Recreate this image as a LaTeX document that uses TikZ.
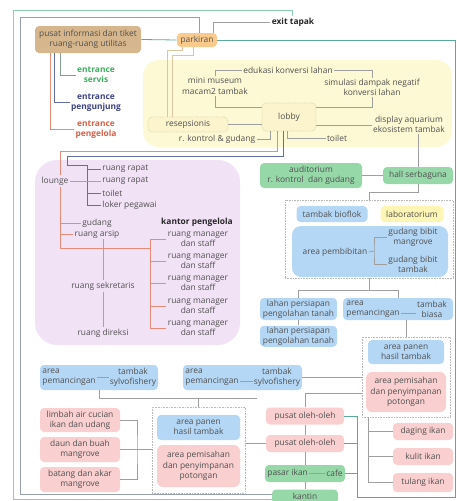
\documentclass[tikz,border=0pt]{standalone}
\usepackage{fontspec}
\setmainfont{Open Sans}
\usetikzlibrary{positioning}

\definecolor{warnateks}{RGB}{80,80,80}
\definecolor{coklat}{RGB}{214,182,140}
\definecolor{oranye}{RGB}{250,202,140}
\definecolor{kuningzona}{RGB}{253,249,212}
\definecolor{kuninglobby}{RGB}{251,244,205}
\definecolor{kuninggaris}{RGB}{222,210,165}
\definecolor{ungu}{RGB}{242,226,246}
\definecolor{hijau}{RGB}{150,216,168}
\definecolor{biru}{RGB}{180,215,245}
\definecolor{kuninglab}{RGB}{255,245,180}
\definecolor{merahmuda}{RGB}{249,207,207}
\definecolor{garishijau}{RGB}{140,205,175}
\definecolor{garisabu}{RGB}{150,158,180}
\definecolor{garisteal}{RGB}{90,170,155}
\definecolor{garisbeige}{RGB}{218,198,160}
\definecolor{garissalmon}{RGB}{232,140,120}
\definecolor{garisbiru}{RGB}{100,110,165}
\definecolor{garisservis}{RGB}{130,160,140}
\definecolor{servishijau}{RGB}{60,175,95}
\definecolor{pengunjungbiru}{RGB}{60,65,140}
\definecolor{pengelolamerah}{RGB}{215,95,70}

\begin{document}
\begin{tikzpicture}[x=1pt, y=-1pt, line width=0.8pt,
  font=\fontsize{8.4}{10.3}\selectfont, text=warnateks,
  tulisan/.style={align=center, inner sep=1pt},
  tebal/.style={align=center, inner sep=1pt, font=\fontsize{8.4}{10.3}\selectfont\bfseries},
  kotak/.style={rounded corners=4pt, align=center, inner sep=1pt},
  bingkai/.style={draw=gray!55, densely dotted, line width=0.6pt},
  penghubung/.style={draw=gray!75}]
  \useasboundingbox (0,0) rectangle (457,501);

  % Zona lobby dan zona kantor pengelola
  \node[fill=kuningzona, rounded corners=16pt, minimum width=309pt, minimum height=87pt] (zonalobby) at (297.5,103.5) {};
  \node[fill=ungu, rounded corners=22pt, minimum width=205pt, minimum height=185pt] (zonakantor) at (137.5,252.5) {};
  % Bingkai titik-titik
  \node[bingkai, minimum width=168pt, minimum height=78pt] (bingkaibioflok) at (369,239) {};
  \node[bingkai, minimum width=88pt, minimum height=80pt] (bingkaipanen) at (406,377) {};
  \node[bingkai, minimum width=93pt, minimum height=86pt] (bingkaipanenkiri) at (198.5,450) {};

  % Pintu masuk dan parkiran
  \node[kotak, fill=coklat, minimum width=106pt, minimum height=27pt] (info) at (88,39.5) {pusat informasi dan tiket\\ruang-ruang utilitas};
  \node[kotak, fill=oranye, minimum width=40pt, minimum height=14pt] (parkiran) at (197,40) {parkiran};
  \node[tebal, text=black!85] (exit) at (293,22) {exit tapak};
  \node[tebal, text=servishijau] (servis) at (96,75) {entrance\\servis};
  \node[tebal, text=pengunjungbiru] (pengunjung) at (96,102.5) {entrance\\pengunjung};
  \node[tebal, text=pengelolamerah] (pengelola) at (96,129.5) {entrance\\pengelola};

  % Isi zona lobby
  \node[kotak, fill=kuninglobby, draw=kuninggaris, densely dotted, minimum width=54pt, minimum height=28pt] (lobby) at (289,117) {lobby};
  \node[kotak, fill=kuninglobby, draw=kuninggaris, densely dotted, minimum width=80pt, minimum height=15pt] (resepsionis) at (188,124.5) {resepsionis};
  \node[tulisan] (museum) at (215,86) {mini museum\\macam2 tambak};
  \node[tulisan] (edukasi) at (288,70) {edukasi konversi lahan};
  \node[tulisan] (simulasi) at (372,87.5) {simulasi dampak negatif\\konversi lahan};
  \node[tulisan] (aquarium) at (409,124.5) {display aquarium\\ekosistem tambak};
  \node[tulisan] (toilet) at (337,138) {toilet};
  \node[tulisan] (rkontrol) at (217,139) {r. kontrol \& gudang};

  % Isi zona kantor pengelola
  \node[tulisan] (lounge) at (55,181) {lounge};
  \node[tulisan, anchor=west] (rapat1) at (101,169) {ruang rapat};
  \node[tulisan, anchor=west] (rapat2) at (101,181) {ruang rapat};
  \node[tulisan, anchor=west] (toiletkantor) at (101,193) {toilet};
  \node[tulisan, anchor=west] (loker) at (101,205.5) {loker pegawai};
  \node[tulisan] (gudang) at (97,223) {gudang};
  \node[tulisan] (arsip) at (97,234) {ruang arsip};
  \node[tulisan] (sekretaris) at (103,286) {ruang sekretaris};
  \node[tulisan] (direksi) at (103,333) {ruang direksi};
  \node[tebal, text=black!85] (kantor) at (197,222) {kantor pengelola};
  \node[tulisan] (manager1) at (198,239) {ruang manager\\dan staff};
  \node[tulisan] (manager2) at (198,261) {ruang manager\\dan staff};
  \node[tulisan] (manager3) at (198,283.5) {ruang manager\\dan staff};
  \node[tulisan] (manager4) at (198,306) {ruang manager\\dan staff};
  \node[tulisan] (manager5) at (198,328) {ruang manager\\dan staff};

  % Kolom kanan
  \node[kotak, fill=hijau, minimum width=102pt, minimum height=25pt] (auditorium) at (311,175.5) {auditorium\\r. kontrol\ \ dan gudang};
  \node[kotak, fill=hijau, minimum width=70pt, minimum height=17pt] (hall) at (418,175.5) {hall serbaguna};
  \node[kotak, fill=biru, minimum width=71pt, minimum height=16pt] (bioflok) at (332,214) {tambak bioflok};
  \node[kotak, fill=kuninglab, minimum width=63pt, minimum height=16pt] (lab) at (412,214) {laboratorium};
  \node[kotak, fill=biru, rounded corners=9pt, minimum width=156pt, minimum height=51pt] (pembibitanbox) at (370,251.5) {};
  \node[tulisan] (pembibitan) at (335,252) {area pembibitan};
  \node[tulisan] (gbm) at (413,237) {gudang bibit\\mangrove};
  \node[tulisan] (gbt) at (413,264) {gudang bibit\\tambak};
  \node[kotak, fill=biru, minimum width=77pt, minimum height=22pt] (lahan1) at (298.5,309) {lahan persiapan\\pengolahan tanah};
  \node[kotak, fill=biru, minimum width=77pt, minimum height=21pt, below=5pt of lahan1] (lahan2) {lahan persiapan\\pengolahan tanah};
  \node[kotak, fill=biru, minimum width=110pt, minimum height=22pt] (biasa) at (398,309) {};
  \node[tulisan, align=left, anchor=west] (pancingbiasa) at (345,309) {area\\pemancingan};
  \node[tulisan] (tambakbiasa) at (432,309) {tambak\\biasa};
  \node[kotak, fill=biru, minimum width=76pt, minimum height=24pt] (panen2) at (406,352) {area panen\\hasil tambak};
  \node[kotak, fill=merahmuda, rounded corners=6pt, minimum width=80pt, minimum height=40pt] (pemisahan2) at (406,392) {area pemisahan\\dan penyimpanan\\potongan};
  \node[kotak, fill=merahmuda, minimum width=60pt, minimum height=17pt] (daging) at (423,431.5) {daging ikan};
  \node[kotak, fill=merahmuda, minimum width=60pt, minimum height=17pt] (kulit) at (423,456.5) {kulit ikan};
  \node[kotak, fill=merahmuda, minimum width=60pt, minimum height=19pt] (tulang) at (423,482.5) {tulang ikan};

  % Bagian bawah
  \node[kotak, fill=biru, minimum width=118pt, minimum height=25pt] (sylvo1) at (99,377.5) {};
  \node[tulisan, align=left, anchor=west] (pancing1) at (41,377.5) {area\\pemancingan};
  \node[tulisan] (tambak1) at (133,377.5) {tambak\\sylvofishery};
  \node[kotak, fill=biru, minimum width=119pt, minimum height=25pt] (sylvo2) at (242.5,377.5) {};
  \node[tulisan, align=left, anchor=west] (pancing2) at (184,377.5) {area\\pemancingan};
  \node[tulisan] (tambak2) at (277,377.5) {tambak\\sylvofishery};
  \node[kotak, fill=biru, minimum width=83pt, minimum height=25pt] (panen3) at (198.5,427.5) {area panen\\hasil tambak};
  \node[kotak, fill=merahmuda, rounded corners=6pt, minimum width=83pt, minimum height=42pt] (pemisahan3) at (198.5,466) {area pemisahan\\dan penyimpanan\\potongan};
  \node[kotak, fill=merahmuda, minimum width=80pt, minimum height=24pt] (limbah) at (80,420) {limbah air cucian\\ikan dan udang};
  \node[kotak, fill=merahmuda, minimum width=80pt, minimum height=25pt] (daun) at (80,449.5) {daun dan buah\\mangrove};
  \node[kotak, fill=merahmuda, minimum width=80pt, minimum height=25pt] (batang) at (80,479.5) {batang dan akar\\mangrove};
  \node[kotak, fill=merahmuda, minimum width=78pt, minimum height=17pt] (pusat1) at (305,416) {pusat oleh-oleh};
  \node[kotak, fill=merahmuda, minimum width=78pt, minimum height=17pt] (pusat2) at (305,443.5) {pusat oleh-oleh};
  \node[kotak, fill=hijau, minimum width=80pt, minimum height=17pt] (pasar) at (305,473.5) {};
  \node[tulisan, anchor=west] (pasarikan) at (266,473.5) {pasar ikan};
  \node[tulisan, anchor=east] (cafe) at (344,473.5) {cafe};
  \node[kotak, fill=hijau, minimum width=66pt, minimum height=14pt] (kantin) at (305,496.5) {kantin};

  % Garis bingkai luar
  \coordinate (hijaukiriatas) at (13,10);
  \coordinate (hijaukiribawah) at (13,499);
  \coordinate (abukiriatas) at (20,17);
  \coordinate (abukiribawah) at (20,494);
  \draw[garishijau] ([xshift=-1pt]exit.north) |- (hijaukiriatas) -- (hijaukiribawah) -- (hijaukiribawah -| kantin.west);
  \draw[garisabu] ([xshift=2pt]parkiran.north) |- (abukiriatas) -- (abukiribawah) -- (abukiribawah -| kantin.west);
  \draw[penghubung] ([xshift=16pt]parkiran.north) |- (exit.west);
  \draw[garisteal] (info.east) -- (parkiran.west);

  % Pintu masuk
  \draw[garisservis] ([xshift=-28pt]info.south) |- (servis.west);
  \draw[garisbiru] ([xshift=-34pt]info.south) |- (pengunjung.west);
  \draw[garissalmon] ([xshift=-38pt]info.south) |- (pengelola.west);

  % Parkiran ke resepsionis
  \draw[garisbeige] ([xshift=-15pt]parkiran.south) -- ++(0,3) -| ([xshift=-21pt]resepsionis.north);
  \draw[garisbeige] ([xshift=-4pt]parkiran.south) -- ++(0,8) -| ([xshift=-16pt]resepsionis.north);

  % Hubungan di zona lobby
  \draw[penghubung] (museum.north) |- (edukasi.west);
  \draw[penghubung] (edukasi.east) -| (simulasi.north);
  \draw[penghubung] (simulasi.south) |- ([yshift=10pt]lobby.east);
  \draw[penghubung] (museum.south) |- ([yshift=10pt]lobby.west);
  \draw[penghubung] (resepsionis.east) -- (resepsionis.east -| lobby.west);
  \draw[penghubung] ([yshift=-8pt]lobby.east) -- ([yshift=-8pt]lobby.east -| aquarium.west);
  \draw[penghubung] ([xshift=-2pt]lobby.south) |- (toilet.west);
  \draw[penghubung] ([xshift=-19pt]lobby.south) |- (rkontrol.east);
  \draw[penghubung] (aquarium.south -| hall.north) -- (hall.north);

  % Lobby ke kantor pengelola
  \coordinate (rapatjepit) at (87,165);
  \draw[garissalmon] ([xshift=-12pt]lobby.south) -- ++(0,20) -| ([xshift=5pt]lounge.north);
  \draw[garisbiru] ([xshift=-6pt]lobby.south) -- ++(0,25) -- ++(-216,0) |- (rapatjepit);
  \draw[garisbiru] (rapatjepit) -- (rapatjepit |- loker.west);
  \draw[garisbiru] (rapat1.west -| rapatjepit) -- (rapat1.west);
  \draw[garisbiru] (rapat2.west -| rapatjepit) -- (rapat2.west);
  \draw[garisbiru] (toiletkantor.west -| rapatjepit) -- (toiletkantor.west);
  \draw[garisbiru] (loker.west -| rapatjepit) -- (loker.west);
  \draw[garissalmon] (lounge.east) -- (lounge.east -| rapat2.west);

  % Kantor pengelola
  \coordinate (loungebawah) at (60,248);
  \coordinate (kantorjepit) at (150,248);
  \draw[garissalmon] ([xshift=5pt]lounge.south) -- (loungebawah) -- (kantorjepit);
  \draw[garissalmon] (gudang.west -| loungebawah) -- (gudang.west);
  \draw[garissalmon] (arsip.west -| loungebawah) -- (arsip.west);
  \draw[garissalmon] (manager1.west -| kantorjepit) -- (manager5.west -| kantorjepit);
  \draw[garissalmon] (manager1.west -| kantorjepit) -- (manager1.west);
  \draw[garissalmon] (manager2.west -| kantorjepit) -- (manager2.west);
  \draw[garissalmon] (manager3.west -| kantorjepit) -- (manager3.west);
  \draw[garissalmon] (manager4.west -| kantorjepit) -- (manager4.west);
  \draw[garissalmon] (manager5.west -| kantorjepit) -- (manager5.west);
  \draw[garissalmon] (arsip.south -| sekretaris.north) -- (sekretaris.north);
  \draw[garissalmon] (sekretaris.south) -- (direksi.north);

  % Kolom kanan
  \coordinate (bibitjepit) at (374,251);
  \draw[penghubung] (auditorium.east) -- (hall.west);
  \draw[penghubung] (hall.south) -- ++(0,8) -| (bingkaibioflok.north);
  \draw[penghubung] (pembibitan.east) -- (bibitjepit);
  \draw[penghubung] (gbm.west) -| (bibitjepit) |- (gbt.west);
  \draw[penghubung] (bingkaibioflok.south) -- ++(0,12) coordinate (cabanglahan) -| (lahan1.north);
  \draw[penghubung] (cabanglahan) -| (biasa.north);
  \draw[penghubung] (lahan1.south) -- (lahan2.north);
  \draw[penghubung] ([yshift=-4pt]pancingbiasa.east) -- ([yshift=-4pt]tambakbiasa.west);
  \draw[penghubung] (bingkaipanen.north |- biasa.south) -- (bingkaipanen.north);
  \draw[penghubung] ([xshift=-38pt]bingkaipanen.south) coordinate (ikanjepit) |- (tulang.west);
  \draw[penghubung] (ikanjepit |- daging.west) -- (daging.west);
  \draw[penghubung] (ikanjepit |- kulit.west) -- (kulit.west);

  % Bagian bawah
  \coordinate (sylvoujung) at (257,398);
  \coordinate (limbahjepit) at (137,449.5);
  \draw[penghubung] (pancing1.east) -- (tambak1.west);
  \draw[penghubung] ([yshift=-4pt]pancing2.east) -- ([yshift=-4pt]tambak2.west);
  \draw[penghubung] (sylvo2.east) -- (sylvo2.east -| bingkaipanen.west);
  \draw[penghubung] (sylvo1.south) |- (sylvoujung);
  \draw[penghubung] (bingkaipanenkiri.north |- sylvoujung) -- (bingkaipanenkiri.north);
  \draw[penghubung] (limbah.east) -| (limbahjepit) |- (batang.east);
  \draw[penghubung] (daun.east) -- (daun.east -| bingkaipanenkiri.west);
  \draw[penghubung] (pusat1.north) |- ([yshift=-16pt]bingkaipanen.west);
  \draw[penghubung] (pusat1.south) -- (pusat2.north);
  \draw[penghubung] (pusat2.south) -- (pasar.north);
  \draw[penghubung] (pasar.south) -- (kantin.north);
  \draw[penghubung] (pusat2.west) -- (pusat2.west -| bingkaipanenkiri.east);
  \draw[penghubung] (pasarikan.east) -- (cafe.west);

  % Parkiran ke pusat oleh-oleh
  \coordinate (hijaukananbawah) at (455,497);
  \coordinate (hijaurel) at (357,497);
  \draw[garisteal] (parkiran.east) -| (hijaukananbawah) -- (hijaurel) |- (pusat1.east);
  \draw[garisteal] (pusat2.east) -- (pusat2.east -| hijaurel);
  \draw[garisteal] (pasar.east) -- (pasar.east -| hijaurel);
\end{tikzpicture}
\end{document}
